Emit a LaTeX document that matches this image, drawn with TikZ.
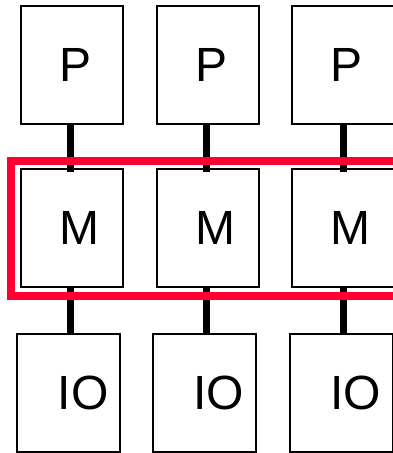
\documentclass[tikz,border=0pt]{standalone}
\usepackage{fontspec}
\setmainfont{Liberation Sans}
\usepackage{tikz}
\definecolor{busred}{RGB}{255, 0, 51}

\begin{document}
\begin{tikzpicture}[x=1pt, y=-1pt,
    unit/.style={draw, line width=2pt, minimum height=118pt, text width=25pt,
      inner xsep=38.5pt, align=left, font=\fontsize{48}{52}\selectfont},
    link/.style={line width=7pt}]
    \useasboundingbox (0,0) rectangle (393,453);
    \foreach \n/\x/\xio/\xc in {1/72/68.8/70, 2/207.5/204.5/206, 3/343/341.5/343} {
      \coordinate (c\n) at (\xc, 0);
      \node[unit] (p\n) at (\x, 65) {P};
      \node[unit] (m\n) at (\x, 228) {M};
      \node[unit, text width=22pt, inner xsep=40.5pt] (io\n) at (\xio, 393) {IO};
      \draw[link] (p\n.south -| c\n) -- ([yshift=-4pt]m\n.north -| c\n);
      \draw[link] ([yshift=1pt]m\n.south -| c\n) -- (io\n.north -| c\n);
    }
    % the M row is boxed in red
    \draw[busred, line width=8pt] (11, 161) rectangle (410, 296);
  \end{tikzpicture}
\end{document}
